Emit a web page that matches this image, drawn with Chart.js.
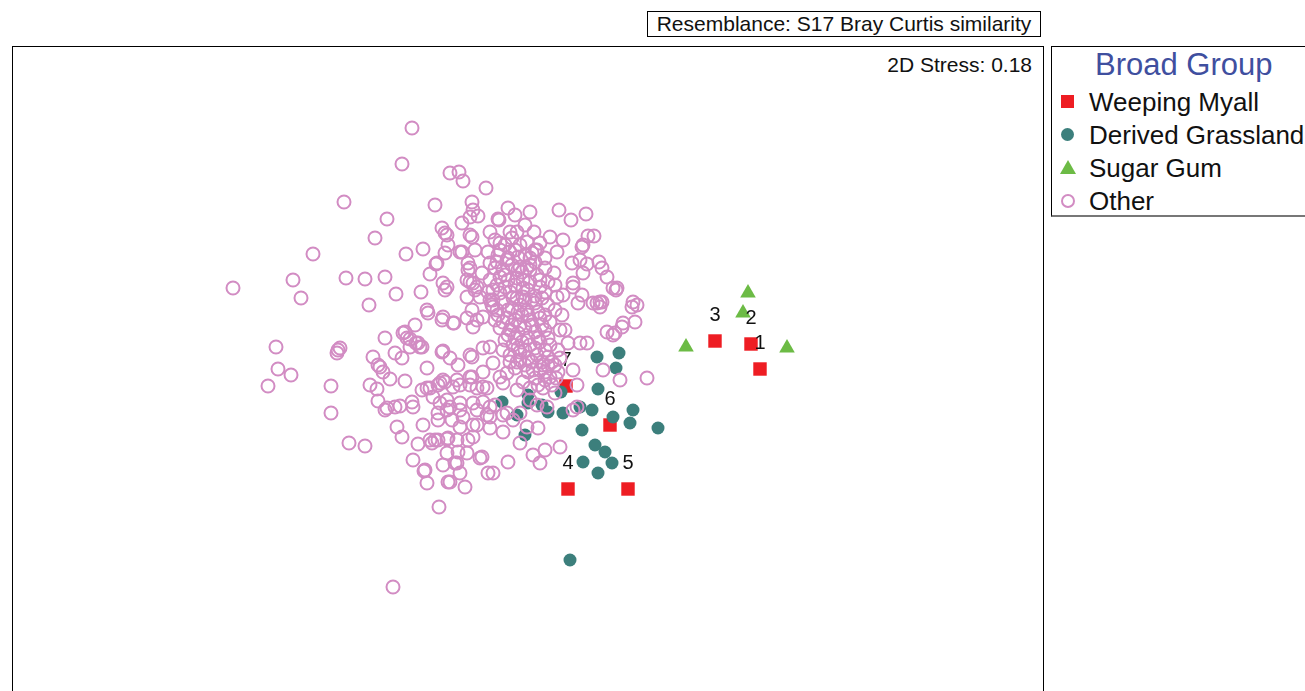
<!DOCTYPE html>
<html>
<head>
<meta charset="utf-8">
<script src="https://cdn.jsdelivr.net/npm/chart.js@4"></script>
<style>
  body { margin: 0; background: #fff; font-family: "Liberation Sans", Arial, sans-serif; overflow: hidden; }
  #frame { position: absolute; left: 12px; top: 46px; width: 1032px; height: 700px; border: 1px solid #000; box-sizing: border-box; }
  #wrap { position: absolute; left: 12px; top: 46px; width: 1031px; height: 660px; }
  #resem { position: absolute; left: 647px; top: 11px; width: 394px; height: 26px; border: 1px solid #000; box-sizing: border-box;
           font-size: 21px; line-height: 24px; text-align: center; color: #111; }
  #stress { position: absolute; right: 273px; top: 53px; font-size: 21px; color: #111; }
  #legend { position: absolute; left: 1051px; top: 46px; width: 300px; height: 171px; border: 1px solid #000; border-bottom: 2px solid #777; box-sizing: border-box; }
  #legend .title { position: absolute; left: 43px; top: 0px; font-size: 31px; color: #3f4f9f; }
  #legend .row { position: absolute; left: 37px; font-size: 26px; color: #111; line-height: 30px; }
  #legend .mk { position: absolute; }
</style>
</head>
<body>
<div id="resem">Resemblance: S17 Bray Curtis similarity</div>
<div id="frame"></div>
<div id="stress">2D Stress: 0.18</div>
<div id="wrap"><canvas id="c"></canvas></div>
<div id="legend">
  <div class="title">Broad Group</div>
  <div class="mk" style="left:9px;top:48px;width:13px;height:13px;background:#ee1d23"></div>
  <div class="row" style="top:40px">Weeping Myall</div>
  <div class="mk" style="left:9px;top:81px;width:13px;height:13px;border-radius:50%;background:#3c7f7c"></div>
  <div class="row" style="top:73px">Derived Grassland</div>
  <svg class="mk" style="left:7px;top:112px" width="18" height="16"><polygon points="9,1 17,15 1,15" fill="#6cbb45"/></svg>
  <div class="row" style="top:106px">Sugar Gum</div>
  <div class="mk" style="left:9px;top:147px;width:10px;height:10px;border-radius:50%;border:2px solid #d28cc3"></div>
  <div class="row" style="top:139px">Other</div>
</div>
<script>
// ordination coordinates (x to the right, y downwards)
const weepingMyall = [[760,369],[751,344],[715,341],[568,489],[628,489],[610,425],[566,386]];
const myallLabels = ['1','2','3','4','5','6','7'];

const sugarGum = [[748,293],[743,313],[686,347],[787,348]];

const derivedGrassland = [
  [597,357],[619,353],[616,368],[598,389],[561,392],[528,395],[528,403],[502,402],[517,415],
  [542,405],[548,412],[563,413],[580,407],[592,410],[582,430],[525,435],[613,417],[633,410],
  [630,423],[658,428],[595,445],[605,452],[612,463],[583,462],[598,473],[570,560]
];

const other = [
  [412,128],[402,164],[450,173],[459,172],[463,181],[486,188],
  [344,202],[435,205],[472,202],[473,210],[478,216],[508,208],
  [387,219],[375,238],[442,228],[445,233],[462,223],[472,237],[490,232],[499,220],[510,232],[517,232],
  [534,232],[550,237],[563,240],[588,236],[594,236],[583,245],[559,210],[571,220],[586,214],
  [313,254],[406,254],[423,249],[445,253],[448,245],[462,252],[475,250],[488,252],[500,243],[532,253],
  [535,250],[557,252],[436,264],[430,274],[468,263],[482,273],[520,267],[530,270],[554,273],[583,273],
  [572,263],[580,260],[587,264],[599,262],[602,268],
  [233,288],[293,280],[301,298],[346,278],[365,279],[385,277],[396,294],[421,292],[369,305],
  [443,283],[445,290],[467,280],[475,290],[573,283],[582,295],[597,303],[602,302],[607,277],[613,288],
  [616,290],[637,305],[427,310],
  [470,217],[498,219],[537,250],[582,247],[470,268],[490,263],[507,260],[530,265],[500,277],[523,280],
  [540,287],[573,287],[447,287],[473,283],[480,297],[493,300],[523,297],[557,297],[563,295],[593,303],
  [600,302],[633,302],[617,288],
  [443,317],[454,323],[415,325],[405,332],[385,338],[410,339],[418,343],[340,348],[437,263],[470,282],
  [477,287],[467,297],[468,270],[472,310],[477,320],[447,235],[470,235],[460,252],
  [453,323],[467,318],[473,327],[442,320],[483,317],[493,307],[587,343],[613,335],[607,332],[622,327],
  [635,322],[632,307],[600,307],[578,303],[560,330],[568,343],[603,370],[620,380],[573,370],[490,347],
  [472,357],[450,358],[493,363],[507,373],[517,362],[533,370],[543,365],[550,377],[443,380],[457,380],
  [472,377],[487,388],[500,377],[503,383],[517,390],[530,400],[543,388],[555,393],[447,400],[460,403],
  [473,403],[490,407],[495,405],[507,413],[520,413],[537,405],[547,407],[577,407],[573,410],
  [428,313],[403,333],[407,338],[416,343],[422,347],[443,351],[276,347],[338,350],[337,353],[373,357],
  [395,353],[402,358],[278,369],[291,375],[268,386],[331,386],[331,413],[380,367],[383,372],[390,379],
  [405,381],[427,368],[370,385],[377,389],[378,401],[387,408],[395,407],[400,406],[412,402],[413,407],
  [427,388],[438,385],[433,397],[440,403],[438,413],[447,410],[397,427],[402,437],[423,425],[418,444],
  [432,443],[438,440],[447,439],[349,443],[365,446],[413,460],[424,471],[427,483],[443,465],[448,482],
  [439,507],
  [410,347],[420,347],[442,352],[470,355],[483,348],[378,365],[458,365],[470,377],[483,372],[385,410],
  [422,390],[430,388],[440,383],[445,382],[453,387],[460,385],[470,385],[477,388],[483,387],[450,407],
  [460,410],[463,417],[477,410],[483,402],[487,415],[477,425],[438,420],[452,420],[430,440],[435,440],
  [448,438],[468,440],[425,470],[457,463],[458,452],[482,457],[450,482],[465,487],[488,473],
  [647,378],[577,385],[580,343],[623,323],[615,333],[560,447],[545,450],[540,463],[533,455],[508,462],
  [493,473],[480,458],[460,473],[490,428],[473,425],[460,427],[457,440],[473,437],[467,453],[447,453],
  [455,463],[490,417],[503,415],[513,420],[527,427],[538,428],[503,432],[520,443],
  [393,587],
  [495,240],[505,245],[512,238],[520,245],[527,242],[540,243],[498,255],[510,252],[518,257],[525,255],
  [545,258],[495,268],[503,270],[512,265],[522,272],[537,275],[545,268],[490,280],[497,285],[508,280],
  [515,285],[530,282],[548,282],[555,285],[488,292],[500,293],[510,292],[517,298],[528,290],[535,296],
  [545,292],[492,305],[503,302],[512,308],[520,305],[527,310],[535,303],[548,305],[555,310],[498,315],
  [507,318],[515,320],[522,315],[530,320],[540,318],[550,322],[500,328],[510,330],[518,333],[525,328],
  [535,332],[545,330],[505,340],[513,345],[522,342],[530,345],[540,342],[550,345],[510,355],[520,352],
  [528,358],[537,355],[548,357],[515,368],[525,365],[535,378],[545,372],[555,365],[523,382],[552,385],
  [558,350],[565,330],[562,315],[525,225],[515,215],[530,212],
  [552,362],[558,372],[560,358],[548,366],[556,378],
  [500,250],[508,258],[515,250],[530,258],[535,262],[497,262],[505,275],[517,278],[527,268],[540,280],
  [493,290],[505,287],[513,298],[523,288],[532,300],[542,298],[497,310],[508,310],[518,312],[528,315],
  [538,312],[545,315],[503,322],[512,325],[520,325],[532,325],[542,325],[508,335],[515,338],[528,338],
  [538,338],[548,338],[518,348],[525,350],[535,348],[545,350],[520,360],[532,362],[542,362],[528,372],
  [540,370],[530,388],[538,385],[545,380],[525,300],[518,270],[490,300],[495,320],[503,350],[510,362]
];

const toPts = arr => arr.map(p => ({ x: p[0], y: p[1] }));

// number labels next to the Weeping Myall squares; "7" sits under the circles
const sampleLabels = {
  id: 'sampleLabels',
  beforeDatasetsDraw(chart) { drawLabels(chart, l => l === '7'); },
  afterDatasetsDraw(chart) { drawLabels(chart, l => l !== '7'); }
};
function drawLabels(chart, keep) {
  const meta = chart.getDatasetMeta(3);
  const ctx = chart.ctx;
  ctx.save();
  ctx.font = '20px "Liberation Sans", Arial, sans-serif';
  ctx.fillStyle = '#111';
  ctx.textAlign = 'center';
  ctx.textBaseline = 'middle';
  meta.data.forEach((pt, i) => {
    if (keep(myallLabels[i])) ctx.fillText(myallLabels[i], pt.x, pt.y - 26);
  });
  ctx.restore();
}

new Chart(document.getElementById('c'), {
  type: 'scatter',
  data: {
    datasets: [
      { label: 'Other', data: toPts(other), pointStyle: 'circle', pointRadius: 6.5,
        borderColor: '#d28cc3', backgroundColor: 'rgba(0,0,0,0)', borderWidth: 2, order: 0 },
      { label: 'Derived Grassland', data: toPts(derivedGrassland), pointStyle: 'circle', pointRadius: 6.5,
        borderColor: '#3c7f7c', backgroundColor: '#3c7f7c', borderWidth: 0, order: 1 },
      { label: 'Sugar Gum', data: toPts(sugarGum), pointStyle: 'triangle', pointRadius: 9,
        borderColor: '#6cbb45', backgroundColor: '#6cbb45', borderWidth: 0, order: 2 },
      { label: 'Weeping Myall', data: toPts(weepingMyall), pointStyle: 'rect', pointRadius: 9.5,
        borderColor: '#ee1d23', backgroundColor: '#ee1d23', borderWidth: 0, order: 3 }
    ]
  },
  options: {
    responsive: true,
    maintainAspectRatio: false,
    animation: false,
    layout: { padding: 0, autoPadding: false },
    scales: {
      x: { type: 'linear', min: 12, max: 1043, display: false },
      y: { type: 'linear', min: 46, max: 706, reverse: true, display: false }
    },
    plugins: { legend: { display: false }, tooltip: { enabled: false } }
  },
  plugins: [sampleLabels]
});
</script>
</body>
</html>
